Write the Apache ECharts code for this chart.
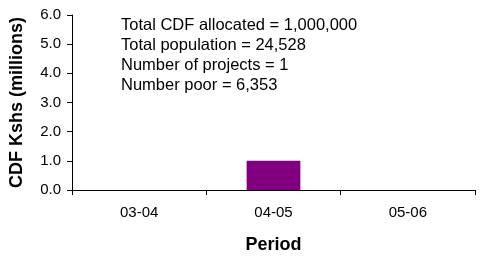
<!DOCTYPE html>
<html>
<head>
<meta charset="utf-8">
<script src="https://cdn.jsdelivr.net/npm/echarts@6/dist/echarts.min.js"></script>
<style>
  html, body { margin: 0; padding: 0; background: #fff; }
  #chart { width: 487px; height: 260px; }
</style>
</head>
<body>
<div id="chart"></div>
<script>
const periods = ['03-04', '04-05', '05-06']
const cdfMillions = [0, 1.0, 0]
const notes = [
  'Total CDF allocated = 1,000,000',
  'Total population = 24,528',
  'Number of projects = 1',
  'Number poor = 6,353'
]

const chart = echarts.init(document.getElementById('chart'))

const font = 'Liberation Sans, Arial, sans-serif'

chart.setOption({
  animation: false,
  backgroundColor: '#fff',
  grid: {
    left: 71,
    right: 12,
    top: 15,
    bottom: 70,
    containLabel: false
  },
  xAxis: {
    type: 'category',
    data: periods,
    name: 'Period',
    nameLocation: 'middle',
    nameGap: 46,
    nameTextStyle: { fontFamily: font, fontSize: 18, fontWeight: 'bold', color: '#000' },
    axisLine: { lineStyle: { color: '#000', width: 1 } },
    axisTick: { show: true, length: 5, inside: false, lineStyle: { color: '#000' } },
    axisLabel: { fontFamily: font, fontSize: 15, color: '#000', margin: 15 },
    splitLine: { show: false }
  },
  yAxis: {
    type: 'value',
    min: 0,
    max: 6,
    interval: 1,
    name: 'CDF Kshs (millions)',
    nameLocation: 'middle',
    nameGap: 46,
    nameTextStyle: { fontFamily: font, fontSize: 18, fontWeight: 'bold', color: '#000' },
    axisLine: { show: true, lineStyle: { color: '#000', width: 1 } },
    axisTick: { show: true, length: 5, lineStyle: { color: '#000' } },
    axisLabel: {
      fontFamily: font, fontSize: 15, color: '#000', margin: 11,
      formatter: v => v.toFixed(1)
    },
    splitLine: { show: false }
  },
  graphic: [{
    type: 'text',
    left: 121,
    top: 15,
    style: {
      text: notes.join('\n'),
      fontFamily: font,
      fontSize: 16.5,
      lineHeight: 20,
      fill: '#000'
    }
  }],
  series: [{
    type: 'bar',
    data: cdfMillions,
    barWidth: '40%',
    itemStyle: { color: '#800080' }
  }]
})
</script>
</body>
</html>
